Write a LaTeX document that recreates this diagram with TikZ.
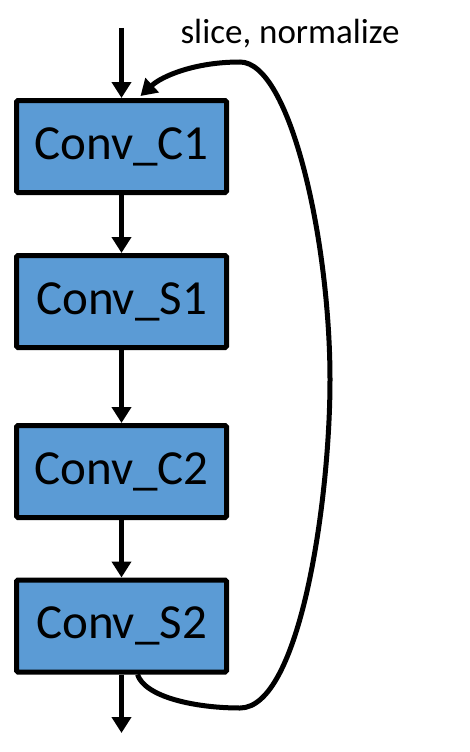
\documentclass[tikz,border=0pt]{standalone}
\usepackage{fontspec}
\setmainfont{Carlito}
\usetikzlibrary{arrows.meta}
\definecolor{convblue}{RGB}{91,155,213}
\tikzstyle{convbox}=[rectangle,draw=black,fill=convblue,line width=5pt,rounded corners=1.5pt,minimum width=210pt,minimum height=92pt,inner sep=0pt,font=\fontsize{49}{54}\selectfont]
\tikzstyle{flow}=[-{Triangle[width=19pt,length=16pt]}, line width=5pt]

\begin{document}
\begin{tikzpicture}[x=1pt,y=-1pt]
\useasboundingbox (0,0) rectangle (470,752);
\node[convbox] (C1) at (121.5,146.5) {Conv\_C1};
\node[convbox] (S1) at (121.5,301.5) {Conv\_S1};
\node[convbox] (C2) at (121.5,471.5) {Conv\_C2};
\node[convbox] (S2) at (121.5,626) {Conv\_S2};
\node[font=\fontsize{35}{40}\selectfont] (lbl) at (290,34) {slice, normalize};
\coordinate (in) at (121.5,28);
\coordinate (out) at (121.5,733);
\coordinate (loopout) at ([xshift=16pt]S2.south);
\coordinate (loopin) at ([xshift=19pt,yshift=2pt]C1.north);
\draw[flow](in)--(C1);
\draw[flow](C1)--(S1);
\draw[flow](S1)--(C2);
\draw[flow](C2)--(S2);
\draw[flow](S2)--(out);
\draw[flow](loopout) .. controls (145,697) and (195,708) .. (240,708) .. controls (300,708) and (330,500) .. (330,380) .. controls (330,240) and (290,62) .. (240,62) .. controls (195,62) and (162,76) .. (loopin);
\end{tikzpicture}
\end{document}
